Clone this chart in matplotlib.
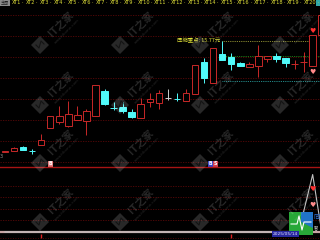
import matplotlib
matplotlib.use('Agg')
import matplotlib.pyplot as plt
from matplotlib.patches import Rectangle, Polygon

plt.rcParams['font.family'] = ['DejaVu Sans', 'Noto Sans CJK SC']
cjk = ['Noto Sans CJK SC', 'DejaVu Sans']

# K线 (开 / 高 / 低 / 收)
opens  = [10.22, 10.26, 10.47, 10.26, 10.56, 11.44, 11.71, 11.54, 11.84, 11.79,
          12.01, 13.27, 12.44, 12.47, 12.24, 11.94, 12.71, 12.66, 12.92, 12.89,
          12.77, 13.11, 14.71, 13.69, 15.12, 14.96, 14.69, 14.46, 14.54, 14.86,
          15.02, 14.94, 14.62, 14.72, 14.54, 16.07]
highs  = [10.29, 10.47, 10.52, 10.39, 11.14, 12.00, 12.52, 12.79, 12.52, 12.37,
          13.57, 13.37, 12.74, 12.72, 12.37, 12.92, 13.17, 13.32, 13.37, 13.16,
          13.36, 14.56, 14.91, 15.41, 15.77, 15.16, 14.72, 14.74, 15.57, 15.02,
          15.19, 14.94, 14.82, 15.24, 16.06, 17.07]
lows   = [10.21, 10.26, 10.30, 10.12, 10.56, 11.44, 11.61, 11.46, 11.84, 11.07,
          12.00, 12.56, 12.32, 12.17, 11.91, 11.94, 12.46, 12.39, 12.82, 12.79,
          12.77, 13.11, 13.69, 13.69, 14.82, 14.32, 14.50, 14.46, 13.99, 14.72,
          14.74, 14.49, 14.37, 14.24, 14.54, 16.07]
closes = [10.28, 10.42, 10.32, 10.25, 10.84, 12.00, 12.00, 12.12, 12.06, 12.27,
          13.57, 12.61, 12.43, 12.29, 11.96, 12.64, 12.86, 13.16, 12.92, 12.88,
          13.16, 14.56, 13.94, 15.41, 14.82, 14.64, 14.54, 14.61, 15.02, 15.02,
          14.87, 14.67, 14.63, 14.73, 16.06, 17.07]

# 箱体
box_start = 24
box_top, box_mid, box_bot = 15.77, 15.02, 13.77
high_label = '压缩重点: 15.77元'

# 副图指标
ind_values = [0, 0, 0, 0, 0, 0, 0, 0, 0, 0, 0, 0, 0, 0, 0, 0, 0, 0,
              0, 0, 0, 0, 0, 0, 0, 0, 0, 0, 0, 0, 0, 0, 0, 31, 88, 0]
heart_idx = 34
heart_main = [16.27, 14.22]
heart_ind = [66, 41]

# 买卖信号: (K线序号, 文字, 底色)
signals = [(5, ['B'], ['#e07878']), (23, ['B', 'S'], ['#3a44c8', '#d04050'])]
month_ticks = [4, 25]
date_idx = 31
date_text = '2025/05/14'

main_grid = [17.07, 16.02, 14.97, 13.92, 12.87, 11.82, 10.77, 9.72]
ind_grid = [70.8, 53.4, 35.8, 18.5]

tab_labels = ['XT1', 'XT2', 'XT3', 'XT4', 'XT5', 'XT6', 'XT7', 'XT8', 'XT9', 'XT10',
              'XT11', 'XT12', 'XT13', 'XT14', 'XT15', 'XT16', 'XT17', 'XT18', 'XT19', 'XT20']

red = '#c82828'
cyan = '#50fafa'
white = '#d0d0d0'
yellow = '#e0e038'
gridc = '#5a0808'

xlim = (-0.552, 34.81)

fig = plt.figure(figsize=(3.2, 2.4), dpi=100, facecolor='black')

# main panel (pixel rows 7 .. 166.7)
ax = fig.add_axes([0, (240 - 166.7) / 240, 1, 159.7 / 240])
ax.set_facecolor('none')
ax.set_xlim(*xlim)
ax.set_ylim(9.485, 17.47)
ax.axis('off')
for g in main_grid:
    ax.axhline(g, color=gridc, lw=0.6, ls=(0, (1.5, 1.5)), zorder=0)

for i in range(len(opens)):
    o, h, l, c = opens[i], highs[i], lows[i], closes[i]
    if c > o:
        col, face = red, 'black'
    elif c < o:
        col, face = cyan, cyan
    else:
        col, face = white, white
    ax.vlines(i, l, h, color=col, lw=0.7, zorder=2)
    ax.bar(i, max(abs(c - o), 0.005), bottom=min(o, c), width=0.72,
           facecolor=face, edgecolor=col, lw=0.7, zorder=3)

n = len(opens)
ax.hlines(box_top, box_start, n - 2, color='#b8b840', lw=0.6, ls=(0, (1, 1.2)), zorder=1)
ax.hlines(box_mid, box_start, n, color='#20a020', lw=0.6, ls=(0, (1, 1.2)), zorder=1)
ax.hlines(box_bot, box_start, n, color='#30b8b8', lw=0.6, ls=(0, (1, 1.2)), zorder=1)
ax.text(box_start - 0.25, box_top + 0.08, high_label, ha='right', va='center',
        color=yellow, fontsize=3.9, family=cjk)

ax.text(heart_idx, heart_main[0], '♥', color='#ff3030', fontsize=5, ha='center', va='center', zorder=4)
ax.text(heart_idx, heart_main[1], '♥', color='#ff8a8a', fontsize=5, ha='center', va='center', zorder=4)

for idx, texts, bgs in signals:
    k = len(texts)
    for j in range(k):
        ax.text(idx + (j - (k - 1) / 2) * 0.55, 9.5, texts[j], color='white', fontsize=3.4,
                ha='center', va='bottom', zorder=4, fontweight='bold',
                bbox=dict(boxstyle='square,pad=0.12', fc=bgs[j], ec='none'))

# indicator panel (pixel rows 166.7 .. 232)
axi = fig.add_axes([0, 8 / 240, 1, 65.3 / 240])
axi.set_facecolor('none')
axi.set_xlim(*xlim)
axi.set_ylim(0, 100)
axi.axis('off')
for g in ind_grid:
    axi.axhline(g, color=gridc, lw=0.6, ls=(0, (1.5, 1.5)), zorder=0)
axi.axhline(100, color='#a81414', lw=1, clip_on=False)
axi.axhline(0, color='#c8a4a4', lw=1.6, clip_on=False)
axi.plot(range(n), ind_values, color='#c0c0c0', lw=0.8, clip_on=False, zorder=2)
axi.text(heart_idx, heart_ind[0], '♥', color='#ff3030', fontsize=5, ha='center', va='center', zorder=4)
axi.text(heart_idx, heart_ind[1], '♥', color='#ff8a8a', fontsize=5, ha='center', va='center', zorder=4)

# time strip (pixel rows 232 .. 240)
axt = fig.add_axes([0, 0, 1, 8 / 240])
axt.set_facecolor('none')
axt.set_xlim(*xlim)
axt.set_ylim(0, 1)
axt.axis('off')
axt.vlines(month_ticks, 0.3, 0.75, color='#e02020', lw=1)
axt.axhline(0.2, color='#700808', lw=0.6, ls=(0, (1, 2)))

# overlay in pixel space: top bar, logo, watermarks
ov = fig.add_axes([0, 0, 1, 1], zorder=10)
ov.set_facecolor('none')
ov.set_xlim(0, 320)
ov.set_ylim(240, 0)
ov.axis('off')

ov.add_patch(Rectangle((0, 0), 10, 5.5, fc='#8a8a8a', ec='none'))
ov.text(5, 2.8, '主图', fontsize=3, color='#202020', ha='center', va='center', family=cjk)
x = 11.7
for k, lab in enumerate(tab_labels):
    ov.text(x, 2.8, lab, color=yellow, fontsize=3.6, ha='left', va='center')
    w = 2.6 * len(lab)
    if k < len(tab_labels) - 1:
        ov.text(x + w + 3.1, 2.8, '·', color=yellow, fontsize=3.6, ha='center', va='center')
    x += w + 6.2
ov.text(x - 2.5, 2.8, '·', color=yellow, fontsize=3.6, ha='center', va='center')
ov.add_patch(Rectangle((316, 0), 5, 5.5, fc='#30a8a8', ec='none'))
ov.text(-0.5, 157, '3', color='#909090', fontsize=3.5, ha='left', va='center')

# logo
ov.add_patch(Rectangle((289, 212), 24, 23, fc='#28a838', ec='none'))
ov.add_patch(Polygon([(301, 212), (313, 212), (313, 228), (301, 222)], fc='#2074c8', ec='none'))
ov.plot([291, 297, 299, 302, 304, 311], [224, 224, 216, 230, 222, 222], color='white', lw=0.8)
ov.text(313.6, 213, '同', color='#3070d0', fontsize=4.5, ha='left', va='top', family=cjk)
ov.text(313.8, 228, '智', color='#d0d0d0', fontsize=3, ha='left', va='center', family=cjk)

ov.text(5 + 9.05 * date_idx, 234, date_text, color='#e0e0ff', fontsize=3.2, ha='center', va='center',
        bbox=dict(boxstyle='square,pad=0.2', fc='#2828a0', ec='none'))

# watermarks
for cy in [45, 105, 163, 222]:
    for cx in [40, 120, 200, 280]:
        ov.add_patch(Polygon([(cx, cy - 9), (cx + 9, cy), (cx, cy + 9), (cx - 9, cy)],
                             fc='white', alpha=0.16, ec='none'))
        ov.plot([cx - 4, cx - 1, cx + 1, cx + 4], [cy, cy + 3, cy - 4, cy - 1],
                color='black', alpha=0.5, lw=0.8)
        ov.text(cx + 21, cy - 21, 'IT之家', rotation=45, color='white', alpha=0.16,
                fontsize=7.5, fontweight='bold', ha='center', va='center', family=cjk)
        ov.text(cx + 27, cy - 14, 'www.ithome.com', rotation=45, color='white', alpha=0.16,
                fontsize=2.8, ha='center', va='center')

fig.savefig('out.png', dpi=100, facecolor='black')
